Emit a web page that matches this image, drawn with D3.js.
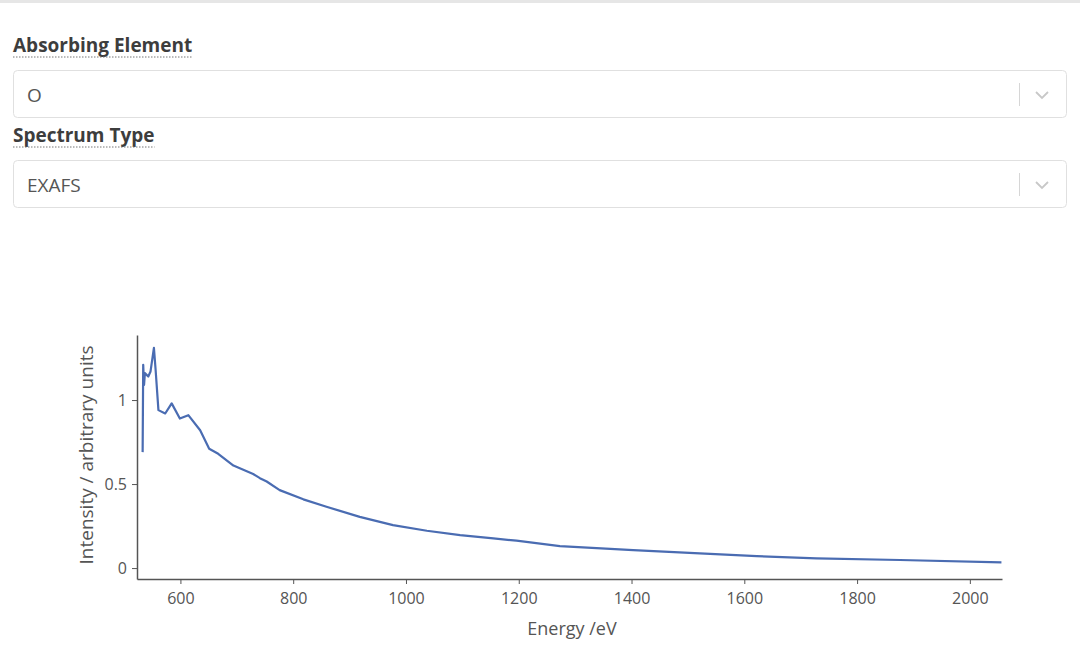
<!DOCTYPE html>
<html>
<head>
<meta charset="utf-8">
<script src="https://cdn.jsdelivr.net/npm/d3@7"></script>
<style>
  html, body { margin: 0; padding: 0; background: #fff; width: 1080px; height: 648px; overflow: hidden; }
  body { font-family: "Open Sans", "Noto Sans", sans-serif; }
</style>
</head>
<body>
<svg id="chart" width="1080" height="648"></svg>
<script>
// ---- data ----
const formLabels = ["Absorbing Element", "Spectrum Type"];
const formValues = ["O", "EXAFS"];
const energy = [533, 534, 535.5, 537, 543, 547, 553, 556, 561, 573, 584.5, 599, 614, 635, 651, 667, 694, 729, 741, 753, 776, 818, 859, 918, 977, 1037, 1096, 1155, 1196, 1273, 1403, 1521, 1622, 1728, 1876, 2056];
const intensity = [0.69, 1.21, 1.09, 1.16, 1.14, 1.17, 1.31, 1.18, 0.94, 0.92, 0.98, 0.89, 0.91, 0.82, 0.71, 0.68, 0.61, 0.56, 0.535, 0.515, 0.464, 0.409, 0.365, 0.305, 0.256, 0.222, 0.196, 0.177, 0.163, 0.131, 0.107, 0.087, 0.071, 0.058, 0.048, 0.034];
const xTicks = [600, 800, 1000, 1200, 1400, 1600, 1800, 2000];
const yTicks = [0, 0.5, 1];
const xTitle = "Energy /eV";
const yTitle = "Intensity / arbitrary units";

const svg = d3.select("#chart");

// top border strip
svg.append("rect").attr("x", 0).attr("y", 0).attr("width", 1080).attr("height", 3).attr("fill", "#e6e6e6");

// ---- form controls ----
const labelBase = [52, 142];
const boxTop = [70, 160];
formLabels.forEach((lab, i) => {
  const t = svg.append("text").attr("x", 13).attr("y", labelBase[i])
    .attr("font-size", 19).attr("font-weight", 700).attr("fill", "#3d3d3d").text(lab);
  const w = t.node().getComputedTextLength();
  svg.append("line").attr("x1", 13).attr("x2", 13 + w).attr("y1", labelBase[i] + 5).attr("y2", labelBase[i] + 5)
    .attr("stroke", "#777").attr("stroke-width", 1).attr("stroke-dasharray", "1.5,1.5");
  svg.append("rect").attr("x", 13.5).attr("y", boxTop[i] + 0.5).attr("width", 1053).attr("height", 47)
    .attr("rx", 4).attr("fill", "#fff").attr("stroke", "#e0e0e0");
  svg.append("text").attr("x", 27).attr("y", boxTop[i] + 32).attr("font-size", 19).attr("fill", "#555").text(formValues[i]);
  svg.append("line").attr("x1", 1019.5).attr("x2", 1019.5).attr("y1", boxTop[i] + 13).attr("y2", boxTop[i] + 36)
    .attr("stroke", "#d6d6d6");
  svg.append("path").attr("d", `M1036,${boxTop[i] + 22} L1042,${boxTop[i] + 28} L1048,${boxTop[i] + 22}`)
    .attr("fill", "none").attr("stroke", "#c8c8c8").attr("stroke-width", 1.8);
});

// ---- chart ----
const x = d3.scaleLinear().domain([523, 2057]).range([137, 1002]);
const y = d3.scaleLinear().domain([-0.065, 1.387]).range([579, 335]);

const gx = svg.append("g").attr("transform", "translate(0,579)")
  .call(d3.axisBottom(x).tickValues(xTicks).tickSize(5).tickPadding(9).tickSizeOuter(0).tickFormat(d3.format("d")));
const gy = svg.append("g").attr("transform", "translate(137,0)")
  .call(d3.axisLeft(y).tickValues(yTicks).tickSize(5).tickPadding(5).tickSizeOuter(0).tickFormat(d3.format("")));
[gx, gy].forEach(g => {
  g.select(".domain").attr("stroke", "#555").attr("stroke-width", 1.5);
  g.selectAll(".tick line").attr("stroke", "#555");
  g.selectAll(".tick text").attr("fill", "#555").attr("font-size", 16)
    .attr("font-family", "'Open Sans', 'Noto Sans', sans-serif");
});

const line = d3.line().x((d, i) => x(energy[i])).y((d, i) => y(intensity[i]));
svg.append("path").datum(intensity).attr("d", line)
  .attr("fill", "none").attr("stroke", "#4a6cb2").attr("stroke-width", 2.2).attr("stroke-linejoin", "round");

svg.append("text").attr("x", 572).attr("y", 635).attr("text-anchor", "middle")
  .attr("font-size", 18).attr("fill", "#555").text(xTitle);
svg.append("text").attr("transform", "translate(93,455) rotate(-90)").attr("text-anchor", "middle")
  .attr("font-size", 19).attr("fill", "#555").text(yTitle);
</script>
</body>
</html>
